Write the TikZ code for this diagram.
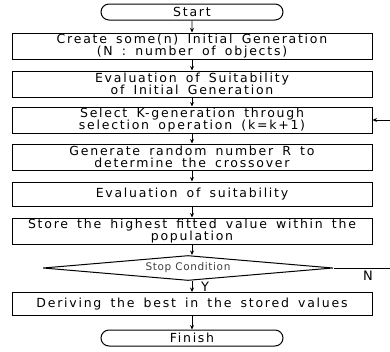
\documentclass[tikz,border=0pt]{standalone}
\usepackage{fontspec}
\usepackage{tikz}
\usetikzlibrary{arrows.meta,shapes.geometric,shapes.misc}
\newfontfamily\flowfont{DejaVu Sans}[LetterSpace=14,WordSpace=1.6]
\newfontfamily\condfont{DejaVu Sans}[LetterSpace=6]

\begin{document}
\begin{tikzpicture}[
  x=1pt, y=-1pt, line width=1pt,
  flowarr/.style={-{Stealth[length=4.5pt,width=4pt]}, line width=0.8pt},
  stepbox/.style={draw, minimum width=360pt, minimum height=26pt, inner sep=0pt,
                  align=center, font=\flowfont\fontsize{12.5}{12.5}\selectfont},
  terminal/.style={draw, rounded rectangle, minimum width=182pt, minimum height=16pt,
                   inner sep=0pt, font=\flowfont\fontsize{12.5}{12.5}\selectfont},
  decision/.style={draw, diamond, aspect=11.6, minimum width=290pt, minimum height=25pt,
                   inner sep=0pt, text=black!75, font=\condfont\fontsize{10.5}{10.5}\selectfont},
  branch/.style={font=\flowfont\fontsize{13}{13}\selectfont, inner sep=0pt}
]
  \useasboundingbox (0,0) rectangle (390,351);

  % --- terminals and steps ---
  \node[terminal] (start) at (192,12) {Start};
  \node[stepbox] (create) at (192,46) {Create some(n) Initial Generation\\(N : number of objects)};
  \node[stepbox] (evalinit) at (192,84) {Evaluation of Suitability\\of Initial Generation};
  \node[stepbox] (select) at (192,120) {Select K-generation through\\selection operation (k=k+1)};
  \node[stepbox] (random) at (192,157) {Generate random number R to\\determine the crossover};
  \node[stepbox, minimum height=24pt] (evalsuit) at (192,194) {Evaluation of suitability};
  \node[stepbox] (store) at (192,231) {Store the highest fitted value within the\\population};
  \node[decision] (stop) at (188,268) {Stop Condition};
  \node[stepbox, minimum height=23pt] (best) at (192,304) {Deriving the best in the stored values};
  \node[terminal] (finish) at (192,338) {Finish};

  % --- main flow ---
  \draw[flowarr] (start) -- (create);
  \draw[flowarr] (create) -- (evalinit);
  \draw[flowarr] (evalinit) -- (select);
  \draw[flowarr] (select) -- (random);
  \draw[flowarr] (random) -- (evalsuit);
  \draw[flowarr] (evalsuit) -- (store);
  \draw[flowarr] (store.south) -- (store.south |- stop.north);
  \draw[flowarr] (stop.south -| best.north) -- (best.north);
  \draw[flowarr] (best) -- (finish);

  % --- loop back when not stopped ---
  \coordinate (loop) at (396,268);
  \draw[flowarr] (stop.east) -- (loop) |- (select.east);
  \node[branch] (no) at (368,276) {N};
  \node[branch] (yes) at (205,287) {Y};
\end{tikzpicture}
\end{document}
